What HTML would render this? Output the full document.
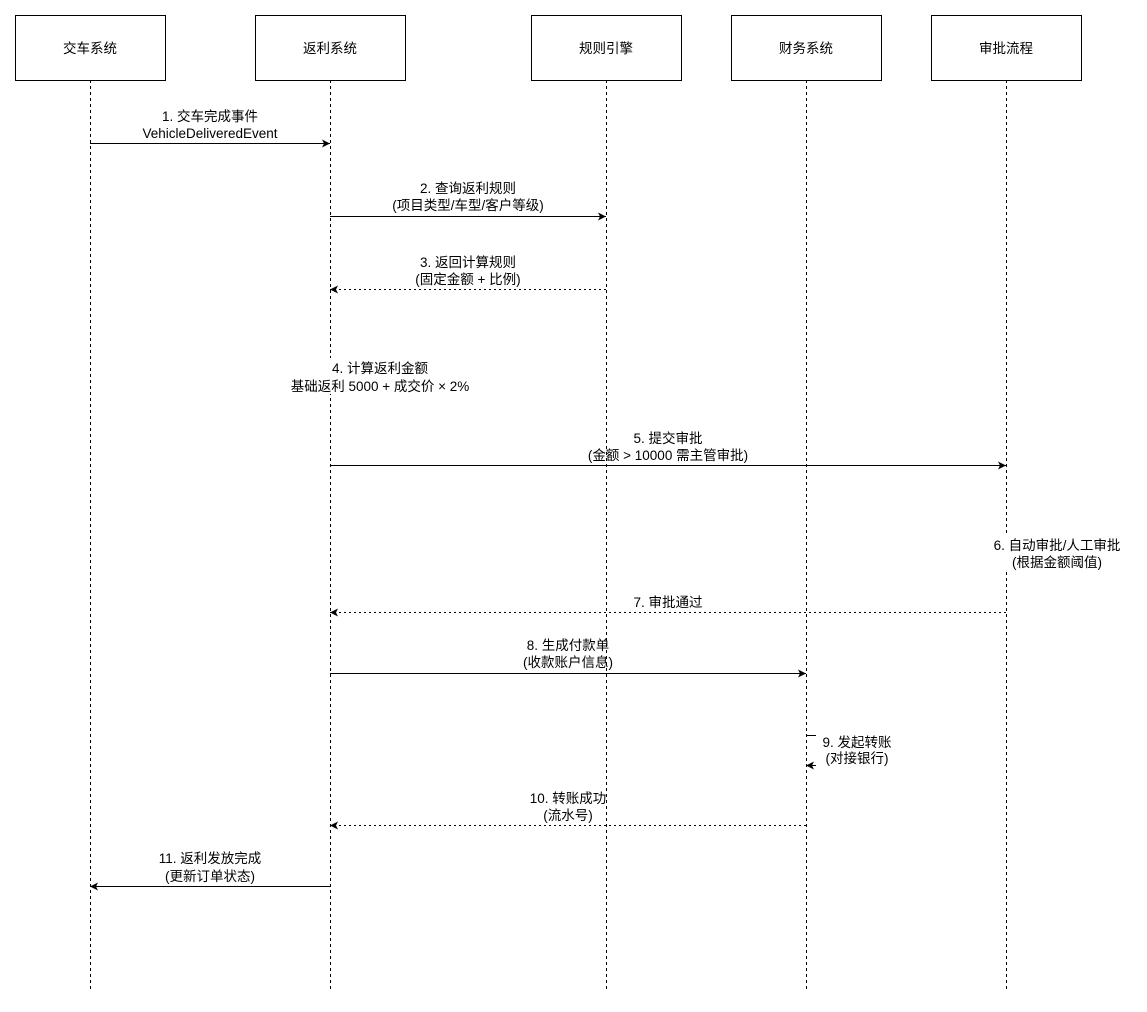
<!DOCTYPE html>
<html><head><meta charset="utf-8"><style>
html,body{margin:0;padding:0;background:#fff;}
svg text{font-family:"Liberation Sans","Noto Sans CJK SC",sans-serif;font-size:13.5px;fill:#000;}
</style></head><body>
<svg width="1147" height="1007" xmlns="http://www.w3.org/2000/svg">
<defs>
<marker id="a" markerWidth="10" markerHeight="10" refX="8" refY="4.5" orient="auto" markerUnits="userSpaceOnUse">
<path d="M0,0.5 L8,4.5 L0,8.5 L2,4.5 Z" fill="#000"/></marker>
</defs>
<g stroke="#000" stroke-dasharray="3,3" stroke-width="1">
<line x1="90.5" y1="80" x2="90.5" y2="990"/>
<line x1="330.5" y1="80" x2="330.5" y2="990"/>
<line x1="606.5" y1="80" x2="606.5" y2="990"/>
<line x1="806.5" y1="80" x2="806.5" y2="990"/>
<line x1="1006.5" y1="80" x2="1006.5" y2="990"/>
</g>
<g fill="#fff" stroke="#000">
<rect x="15.5" y="15.5" width="150" height="65"/>
<rect x="255.5" y="15.5" width="150" height="65"/>
<rect x="531.5" y="15.5" width="150" height="65"/>
<rect x="731.5" y="15.5" width="150" height="65"/>
<rect x="931.5" y="15.5" width="150" height="65"/>
</g>
<g text-anchor="middle">
<text x="90" y="53">交车系统</text>
<text x="330" y="53">返利系统</text>
<text x="606" y="53">规则引擎</text>
<text x="806" y="53">财务系统</text>
<text x="1006" y="53">审批流程</text>
</g>
<g stroke="#000" stroke-width="1" fill="none">
<line x1="90" y1="143.5" x2="330" y2="143.5" marker-end="url(#a)"/>
<line x1="330" y1="216.5" x2="606" y2="216.5" marker-end="url(#a)"/>
<line x1="606" y1="289.5" x2="330" y2="289.5" stroke-dasharray="2,3" marker-end="url(#a)"/>
<line x1="330" y1="465.5" x2="1006" y2="465.5" marker-end="url(#a)"/>
<line x1="1006" y1="612.5" x2="330" y2="612.5" stroke-dasharray="2,3" marker-end="url(#a)"/>
<line x1="330" y1="673.5" x2="806" y2="673.5" marker-end="url(#a)"/>
<polyline points="806,735.5 816,735.5"/>
<line x1="816" y1="765.5" x2="806" y2="765.5" marker-end="url(#a)"/>
<line x1="806" y1="825.5" x2="330" y2="825.5" stroke-dasharray="2,3" marker-end="url(#a)"/>
<line x1="330" y1="886.5" x2="90" y2="886.5" marker-end="url(#a)"/>
</g>
<rect x="286" y="358" width="190" height="36" fill="#fff"/>
<rect x="988" y="535" width="138" height="36" fill="#fff"/>
<rect x="818" y="732" width="80" height="36" fill="#fff"/>
<g text-anchor="middle">
<text x="210" y="121">1. 交车完成事件</text>
<text x="210" y="138">VehicleDeliveredEvent</text>
<text x="468" y="193">2. 查询返利规则</text>
<text x="468" y="210">(项目类型/车型/客户等级)</text>
<text x="468" y="267">3. 返回计算规则</text>
<text x="468" y="284">(固定金额 + 比例)</text>
<text x="380" y="373">4. 计算返利金额</text>
<text x="380" y="391">基础返利 5000 + 成交价 × 2%</text>
<text x="668" y="443">5. 提交审批</text>
<text x="668" y="460">(金额 &gt; 10000 需主管审批)</text>
<text x="1057" y="550">6. 自动审批/人工审批</text>
<text x="1057" y="567">(根据金额阈值)</text>
<text x="668" y="607">7. 审批通过</text>
<text x="568" y="650">8. 生成付款单</text>
<text x="568" y="667">(收款账户信息)</text>
<text x="857" y="747">9. 发起转账</text>
<text x="857" y="763">(对接银行)</text>
<text x="568" y="803">10. 转账成功</text>
<text x="568" y="820">(流水号)</text>
<text x="210" y="863">11. 返利发放完成</text>
<text x="210" y="881">(更新订单状态)</text>
</g>
</svg>
</body></html>
